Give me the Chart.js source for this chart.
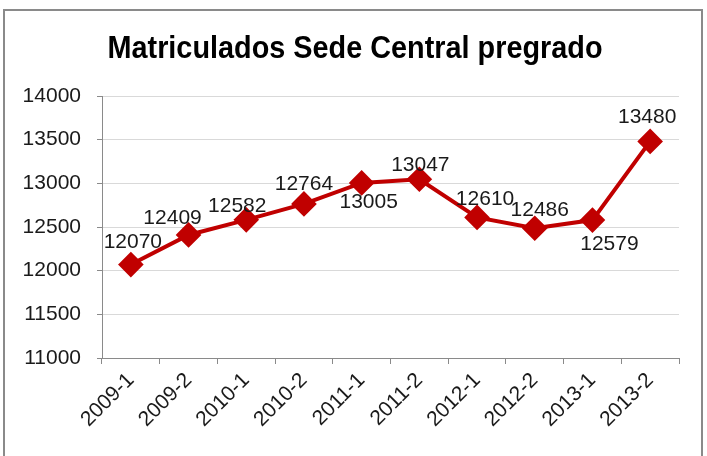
<!DOCTYPE html>
<html>
<head>
<meta charset="utf-8">
<script src="https://cdn.jsdelivr.net/npm/chart.js@4/dist/chart.umd.min.js"></script>
<style>
    html, body { margin: 0; padding: 0; background: #fff; overflow: hidden; }
    #frame { position: absolute; left: 3px; top: 9px; width: 696px; height: 470px; border: 2px solid #8a8a8a; }
    #wrap { position: absolute; left: 0; top: 0; width: 707px; height: 456px; }
</style>
</head>
<body>
<div id="frame"></div>
<div id="wrap"><canvas id="chart"></canvas></div>
<script>
var chartTitle = "Matriculados Sede Central pregrado";
var periods = ["2009-1", "2009-2", "2010-1", "2010-2", "2011-1", "2011-2", "2012-1", "2012-2", "2013-1", "2013-2"];
var students = [12070, 12409, 12582, 12764, 13005, 13047, 12610, 12486, 12579, 13480];
var yTicks = [11000, 11500, 12000, 12500, 13000, 13500, 14000];

// where each value label sits relative to its marker (dx, dy)
var labelShift = [[2, -22], [-16, -17], [-9, -14], [0, -20], [7, 19], [1, -14], [8, -18], [5, -18], [17, 24], [-3, -24]];

var FONT = "'Liberation Sans', Arial, sans-serif";

var titlePlugin = {
    id: 'bigTitle',
    afterDraw: function (chart) {
        var ctx = chart.ctx;
        ctx.save();
        ctx.font = "bold 31px " + FONT;
        var w = ctx.measureText(chartTitle).width;
        var sx = 495 / w;
        ctx.translate(355, 49);
        ctx.scale(sx, 1);
        ctx.fillStyle = "#000";
        ctx.textAlign = "center";
        ctx.textBaseline = "middle";
        ctx.fillText(chartTitle, 0, 0);
        ctx.restore();
    }
};

var valueLabels = {
    id: 'valueLabels',
    afterDatasetsDraw: function (chart) {
        var ctx = chart.ctx;
        var meta = chart.getDatasetMeta(0);
        ctx.save();
        ctx.font = "21px " + FONT;
        ctx.fillStyle = "#1a1a1a";
        ctx.textAlign = "center";
        ctx.textBaseline = "middle";
        meta.data.forEach(function (pt, i) {
            var s = labelShift[i];
            ctx.fillText(String(students[i]), pt.x + s[0], pt.y + s[1]);
        });
        ctx.restore();
    }
};

new Chart(document.getElementById("chart"), {
    type: 'line',
    data: {
        labels: periods,
        datasets: [{
            data: students,
            borderColor: '#c00000',
            backgroundColor: '#c00000',
            borderWidth: 4,
            pointStyle: 'rectRot',
            pointRadius: 10,
            pointHoverRadius: 10,
            tension: 0
        }]
    },
    options: {
        responsive: true,
        maintainAspectRatio: false,
        animation: false,
        events: [],
        layout: { padding: { top: 96, right: 28, left: 0, bottom: 0 } },
        plugins: {
            legend: { display: false },
            title: { display: false },
            tooltip: { enabled: false }
        },
        scales: {
            x: {
                offset: true,
                grid: {
                    offset: true,
                    drawOnChartArea: false,
                    drawTicks: true,
                    tickLength: 6,
                    tickColor: '#8a8a8a'
                },
                border: { color: '#8a8a8a', width: 1 },
                ticks: {
                    minRotation: 45,
                    maxRotation: 45,
                    color: '#1a1a1a',
                    padding: 4,
                    font: { family: FONT, size: 21 }
                },
                afterFit: function (scale) { scale.height = 98; }
            },
            y: {
                min: 11000,
                max: 14000,
                afterBuildTicks: function (scale) {
                    scale.ticks = yTicks.map(function (v) { return { value: v }; });
                },
                grid: {
                    color: '#d9d9d9',
                    lineWidth: 1,
                    tickLength: 5,
                    tickColor: '#8a8a8a'
                },
                border: { color: '#8a8a8a', width: 1 },
                ticks: {
                    color: '#1a1a1a',
                    padding: 16,
                    font: { family: FONT, size: 21 },
                    callback: function (v) { return String(v); }
                },
                afterFit: function (scale) { scale.width = 102; }
            }
        }
    },
    plugins: [titlePlugin, valueLabels]
});
</script>
</body>
</html>
